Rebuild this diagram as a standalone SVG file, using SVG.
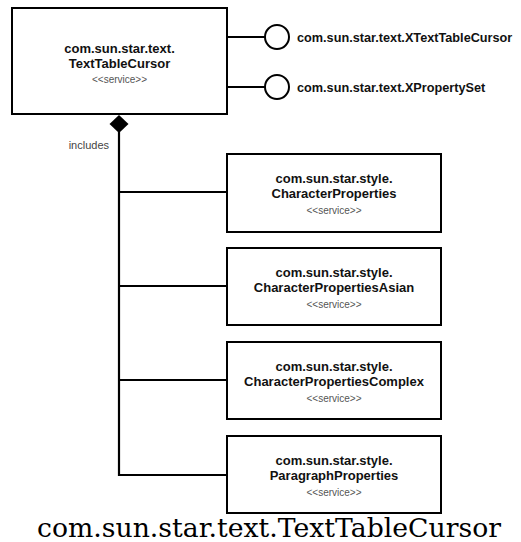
<svg xmlns="http://www.w3.org/2000/svg" width="521" height="542" viewBox="0 0 521 542">
<style>
.box{fill:#fff;stroke:#000;stroke-width:2}
.t{font-family:"Liberation Sans",Arial,sans-serif;font-weight:bold;font-size:13px;fill:#111;text-anchor:middle}
.s{font-family:"Liberation Sans",Arial,sans-serif;font-size:10px;fill:#555;text-anchor:middle}
.i{font-family:"Liberation Sans",Arial,sans-serif;font-weight:bold;font-size:12.7px;fill:#111}
.ln{fill:none;stroke:#000;stroke-width:2.2}
.lollipop{fill:#fff;stroke:#000;stroke-width:2}
</style>
<rect width="521" height="542" fill="#fff"/>
<g id="connectors">
  <path class="ln" d="M227 37H265M227 87H265"/>
  <path class="ln" d="M119 132V475H227M119 192H227M119 286H227M119 380H227"/>
  <polygon points="119,115 128.5,124 119,133 109.5,124" fill="#000"/>
  <text x="109" y="149" text-anchor="end" style="font-family:'Liberation Sans',Arial,sans-serif;font-size:11px;fill:#444">includes</text>
</g>
<g id="iface1">
  <circle class="lollipop" cx="277" cy="37" r="12"/>
  <text class="i" x="297" y="42">com.sun.star.text.XTextTableCursor</text>
</g>
<g id="iface2">
  <circle class="lollipop" cx="277" cy="87" r="12"/>
  <text class="i" x="297" y="92">com.sun.star.text.XPropertySet</text>
</g>
<g id="TextTableCursor">
  <rect class="box" x="12" y="8" width="215" height="106"/>
  <text class="t" x="119.5" y="53">com.sun.star.text.</text>
  <text class="t" x="119.5" y="68">TextTableCursor</text>
  <text class="s" x="119.5" y="83">&lt;&lt;service&gt;&gt;</text>
</g>
<g id="CharacterProperties">
  <rect class="box" x="227" y="154" width="214" height="78"/>
  <text class="t" x="334" y="183">com.sun.star.style.</text>
  <text class="t" x="334" y="198">CharacterProperties</text>
  <text class="s" x="334" y="214">&lt;&lt;service&gt;&gt;</text>
</g>
<g id="CharacterPropertiesAsian">
  <rect class="box" x="227" y="248" width="214" height="77"/>
  <text class="t" x="334" y="277">com.sun.star.style.</text>
  <text class="t" x="334" y="292">CharacterPropertiesAsian</text>
  <text class="s" x="334" y="308">&lt;&lt;service&gt;&gt;</text>
</g>
<g id="CharacterPropertiesComplex">
  <rect class="box" x="227" y="342" width="214" height="77"/>
  <text class="t" x="334" y="371">com.sun.star.style.</text>
  <text class="t" x="334" y="386">CharacterPropertiesComplex</text>
  <text class="s" x="334" y="402">&lt;&lt;service&gt;&gt;</text>
</g>
<g id="ParagraphProperties">
  <rect class="box" x="227" y="436" width="214" height="77"/>
  <text class="t" x="334" y="465">com.sun.star.style.</text>
  <text class="t" x="334" y="480">ParagraphProperties</text>
  <text class="s" x="334" y="496">&lt;&lt;service&gt;&gt;</text>
</g>
<text x="269" y="537" text-anchor="middle" style="font-family:'DejaVu Serif',serif;font-size:26.7px;fill:#000">com.sun.star.text.TextTableCursor</text>
</svg>
